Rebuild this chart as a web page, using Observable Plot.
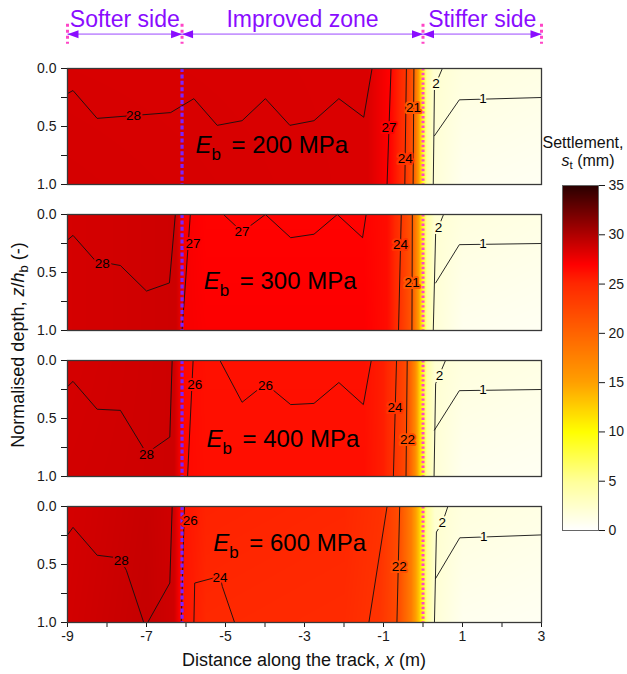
<!DOCTYPE html>
<html>
<head>
<meta charset="utf-8">
<script src="https://cdn.jsdelivr.net/npm/d3@7"></script>
<script src="https://cdn.jsdelivr.net/npm/@observablehq/plot@0.6"></script>
<style>
  html, body { margin: 0; padding: 0; background: #fff; }
  #chart { position: relative; width: 627px; height: 674px; overflow: hidden; font-family: "Liberation Sans", Arial, sans-serif; color: #111; }
  #chart .lbl { position: absolute; white-space: nowrap; line-height: 1; }
  #chart sub { font-size: 0.72em; vertical-align: -0.28em; line-height: 0; }
</style>
</head>
<body>
<div id="chart"></div>
<script>
// ---------------- data ----------------
const xAxisTicks = [-9, -8, -7, -6, -5, -4, -3, -2, -1, 0, 1, 2, 3];
const depthTicks = [0, 0.25, 0.5, 0.75, 1];
const legendTicks = [0, 5, 10, 15, 20, 25, 30, 35];
const zoneBounds = [-9, -6.1, 0, 3];
const zoneNames = ["Softer side", "Improved zone", "Stiffer side"];
const panelNames = ["200", "300", "400", "600"];

const colorStops = [0, 5, 10, 15, 20, 25, 27, 30, 35];
const colorHexes = ["#ffffff", "#ffff99", "#ffff00", "#ffa000", "#ff6400", "#ff2800", "#ff0000", "#b00000", "#2a0000"];

// settlement (mm) along x at surface (z/hb = 0) and at base (z/hb = 1)
const field200X      = [-9, -1.4, -0.85, -0.44, -0.24, -0.1, 0, 0.1, 0.27, 1, 3];
const field200Top    = [28.5, 28.4, 27, 24, 21, 15, 9, 4.5, 2.3, 1.6, 1.3];
const field200Bottom = [28.6, 28.4, 27, 24, 21, 15, 9, 4.5, 2.0, 0.8, 0.6];

const field300X      = [-9, -6.25, -6.05, -5.5, -1.5, -0.9, -0.57, -0.27, -0.1, 0, 0.1, 0.3, 1, 3];
const field300Top    = [28.6, 28.9, 27.3, 26.9, 26.9, 26.4, 24, 21, 15, 9, 4.5, 2.2, 1.6, 1.3];
const field300Bottom = [28.6, 28.9, 27.3, 27.1, 27.1, 26.4, 24, 21, 15, 9, 4.5, 2.0, 0.8, 0.6];

const field400X      = [-9, -6.3, -6.05, -5.5, -1.5, -1.0, -0.7, -0.4, -0.2, 0, 0.1, 0.3, 1, 3];
const field400Top    = [28.6, 28.9, 26.6, 26.2, 26.2, 25.5, 24, 22, 17, 9, 4.5, 2.2, 1.6, 1.3];
const field400Bottom = [28.7, 28.9, 26.6, 26.3, 26.3, 25.5, 24, 22, 17, 9, 4.5, 2.0, 0.8, 0.6];

const field600X      = [-9, -7, -6.3, -6.05, -5.5, -2, -1.1, -0.62, -0.3, -0.1, 0, 0.1, 0.3, 1, 3];
const field600Top    = [28.6, 29.1, 28.8, 26.0, 25.3, 25.1, 24.3, 22, 18, 13, 9, 5, 2.4, 1.6, 1.3];
const field600Bottom = [28.7, 29.2, 28.8, 26.0, 25.0, 24.8, 24.0, 22, 18, 13, 9, 5, 2.0, 0.8, 0.6];

// contour lines: [x (m), z/hb]
const contours200 = [
  [[-9,0.216],[-8.86,0.19],[-8.25,0.43],[-6.39,0.38],[-5.80,0.26],[-5.21,0.49],[-4.58,0.45],[-3.99,0.26],[-3.37,0.49],[-2.76,0.45],[-2.13,0.26],[-1.50,0.42],[-1.29,0]],
  [[-0.81,0],[-0.91,1]],
  [[-0.42,0],[-0.46,1]],
  [[-0.23,0],[-0.25,1]],
  [[0.49,0],[0.29,0.16],[0.26,1]],
  [[0.29,0.58],[0.92,0.27],[3,0.25]]
];
const labels200 = [[-7.33,0.41,"28"],[-0.86,0.51,"27"],[-0.45,0.78,"24"],[-0.24,0.34,"21"],[0.33,0.13,"2"],[1.52,0.262,"1"]];

const contours300 = [
  [[-9,0.22],[-8.86,0.18],[-8.29,0.40],[-7.66,0.44],[-7.0,0.66],[-6.42,0.59],[-6.27,0]],
  [[-5.89,0],[-6.10,1]],
  [[-5.05,0],[-4.58,0.15],[-3.99,0],[-3.35,0.2],[-2.76,0.17],[-2.17,0],[-1.53,0.2],[-1.44,0]],
  [[-0.55,0],[-0.62,1]],
  [[-0.27,0],[-0.28,1]],
  [[0.52,0],[0.39,0.11],[0.32,0.16],[0.26,1]],
  [[0.32,0.59],[0.92,0.26],[3,0.25]]
];
const labels300 = [[-8.12,0.42,"28"],[-5.82,0.25,"27"],[-4.58,0.15,"27"],[-0.57,0.26,"24"],[-0.275,0.59,"21"],[0.39,0.11,"2"],[1.52,0.255,"1"]];

const contours400 = [
  [[-9,0.225],[-8.86,0.18],[-8.25,0.42],[-7.66,0.43],[-7.0,0.8],[-6.41,0.66],[-6.35,0]],
  [[-5.82,0],[-5.96,1]],
  [[-5.14,0],[-4.58,0.36],[-3.99,0.2],[-3.35,0.38],[-2.76,0.37],[-2.13,0.19],[-1.51,0.38],[-1.31,0]],
  [[-0.67,0],[-0.75,1]],
  [[-0.40,0],[-0.43,1]],
  [[0.57,0],[0.42,0.12],[0.32,0.2],[0.28,1]],
  [[0.29,0.6],[0.92,0.26],[3,0.25]]
];
const labels400 = [[-7.0,0.81,"28"],[-5.78,0.21,"26"],[-3.99,0.22,"26"],[-0.71,0.41,"24"],[-0.39,0.68,"22"],[0.42,0.13,"2"],[1.52,0.255,"1"]];

const contours600 = [
  [[-9,0.245],[-8.86,0.18],[-8.25,0.42],[-7.78,0.44],[-7.64,0.47],[-7.51,0.55],[-7.07,1]],
  [[-6.97,1],[-6.41,0.66],[-6.35,0]],
  [[-6.04,0],[-6.12,1]],
  [[-5.8,1],[-5.78,0.66],[-5.34,0.62],[-5.14,0.6],[-5.08,0.69],[-4.77,1]],
  [[-0.91,0],[-1.37,1]],
  [[-0.59,0],[-0.66,1]],
  [[0.63,0],[0.49,0.14],[0.34,0.22],[0.29,1]],
  [[0.32,0.62],[0.93,0.27],[3,0.245]]
];
const labels600 = [[-7.64,0.47,"28"],[-5.89,0.12,"26"],[-5.14,0.61,"24"],[-0.6,0.52,"22"],[0.49,0.14,"2"],[1.54,0.26,"1"]];

// anchor (x, z/hb at baseline) of the "E_b = ... MPa" annotation in each panel
const ebAnchors = [[-5.76,0.729],[-5.55,0.644],[-5.48,0.746],[-5.31,0.385]];

// ---------------- layout / style ----------------
const FONT = "'Liberation Sans', Arial, sans-serif";
const VIOLET = "#8a0cff", VIOLET_LIGHT = "#c696ff", PINK = "#ff46c6", DIVIDER = "#7c22ff";
const PANEL_TOPS = [68, 214, 360, 506], PANEL_H = 116;
const ML = 67, MR = 86, W = 627;
const ANNOT = {arrow: -0.296, tickTop: -0.382, tickBottom: -0.209, text: -0.359};

const chart = document.getElementById("chart");
function place(el, left, top) {
  el.style.position = "absolute";
  el.style.left = left + "px";
  el.style.top = top + "px";
  chart.appendChild(el);
}
function makeField(xs, top, bot) {
  return (x, z) => {
    let i = d3.bisectRight(xs, x) - 1;
    i = Math.max(0, Math.min(xs.length - 2, i));
    const t = Math.max(0, Math.min(1, (x - xs[i]) / (xs[i + 1] - xs[i])));
    const a = top[i] + t * (top[i + 1] - top[i]);
    const b = bot[i] + t * (bot[i + 1] - bot[i]);
    const w = Math.max(0, Math.min(1, z));
    return a + w * (b - a);
  };
}
const colorOpts = {type: "linear", domain: colorStops, range: colorHexes, clamp: true};

const triRight = {draw(ctx) { ctx.moveTo(0, 0); ctx.lineTo(-11, -4); ctx.lineTo(-11, 4); ctx.closePath(); }};
const triLeft  = {draw(ctx) { ctx.moveTo(0, 0); ctx.lineTo(11, -4); ctx.lineTo(11, 4); ctx.closePath(); }};

const panels = [
  {fx: field200X, ft: field200Top, fb: field200Bottom, lines: contours200, labels: labels200},
  {fx: field300X, ft: field300Top, fb: field300Bottom, lines: contours300, labels: labels300},
  {fx: field400X, ft: field400Top, fb: field400Bottom, lines: contours400, labels: labels400},
  {fx: field600X, ft: field600Top, fb: field600Bottom, lines: contours600, labels: labels600}
];

panels.forEach((p, idx) => {
  const first = idx === 0, last = idx === panels.length - 1;
  const mt = first ? 68 : 12, mb = last ? 54 : 12;
  const field = makeField(p.fx, p.ft, p.fb);
  const rows = p.lines.flatMap((pts, id) => pts.map(([x, z]) => ({id, x, z})));
  const labs = p.labels.map(([x, z, t]) => ({x, z, t}));
  const [ex, ez] = ebAnchors[idx];
  const ebText = (str, opts) => Plot.text([str], {x: ex, y: ez, text: d => d, textAnchor: "start", lineAnchor: "bottom", fill: "#000", fontSize: 24, ...opts});
  const marks = [
    Plot.raster({fill: field, x1: -9, x2: 3, y1: 0, y2: 1}),
    Plot.line(rows, {x: "x", y: "z", z: "id", stroke: "#111", strokeWidth: 0.9}),
    Plot.ruleX([zoneBounds[1]], {stroke: DIVIDER, strokeWidth: 3.2, strokeDasharray: "4,2.4"}),
    Plot.ruleX([zoneBounds[2]], {stroke: PINK, strokeWidth: 3, strokeDasharray: "2.4,2.4"}),
    Plot.text(labs, {x: "x", y: "z", text: "t", fill: "#000", stroke: d => field(d.x, d.z), strokeWidth: 4, strokeLinejoin: "round", paintOrder: "stroke", fontSize: 13.5}),
    ebText("E", {fontStyle: "italic"}),
    ebText("b", {fontSize: 17, dx: 16, dy: 6.5}),
    ebText(`= ${panelNames[idx]} MPa`, {dx: 36}),
    Plot.frame({stroke: "#383838", strokeWidth: 1.3})
  ];
  if (first) {
    const zones = zoneNames.map((name, i) => ({name, a: zoneBounds[i], b: zoneBounds[i + 1]}));
    marks.push(
      Plot.link(zones, {x1: "a", x2: "b", y1: ANNOT.arrow, y2: ANNOT.arrow, stroke: VIOLET_LIGHT, strokeWidth: 1.6}),
      Plot.dot(zones, {x: d => d.a, y: ANNOT.arrow, symbol: triLeft, fill: VIOLET, stroke: "none"}),
      Plot.dot(zones, {x: d => d.b, y: ANNOT.arrow, symbol: triRight, fill: VIOLET, stroke: "none"}),
      Plot.ruleX(zoneBounds, {y1: ANNOT.tickTop, y2: ANNOT.tickBottom, stroke: PINK, strokeWidth: 3, strokeDasharray: "3,3"}),
      Plot.text(zones, {x: d => (d.a + d.b) / 2, y: ANNOT.text, text: "name", fill: VIOLET, fontSize: 23, lineAnchor: "bottom"})
    );
  }
  const svg = Plot.plot({
    width: W, height: mt + PANEL_H + mb,
    marginLeft: ML, marginRight: MR, marginTop: mt, marginBottom: mb,
    style: {fontFamily: FONT, fontSize: "14px", color: "#1a1a1a", background: "transparent", overflow: "visible"},
    x: last
      ? {domain: [-9, 3], ticks: xAxisTicks, tickFormat: d => (Math.abs(d) % 2 === 1 ? String(d) : ""), tickSize: 5, tickPadding: 4, label: null}
      : {domain: [-9, 3], axis: null},
    y: {domain: [0, 1], reverse: true, ticks: depthTicks, tickFormat: d => (Math.round(d * 4) % 2 === 0 ? d.toFixed(1) : ""), tickSize: 6, tickPadding: 5, label: null},
    color: colorOpts,
    marks
  });
  place(svg, 0, PANEL_TOPS[idx] - mt);
});

// colour bar
const cb = Plot.plot({
  width: 87, height: 35 + 345 + 15,
  marginLeft: 22, marginRight: 29, marginTop: 35, marginBottom: 15,
  style: {fontFamily: FONT, fontSize: "14px", color: "#1a1a1a", background: "transparent", overflow: "visible"},
  x: {domain: [0, 1], axis: null},
  y: {domain: [0, 35], ticks: legendTicks, tickFormat: d => String(d), axis: "right", tickSize: 6, tickPadding: 4, label: null},
  color: colorOpts,
  marks: [
    Plot.raster({fill: (x, y) => y, x1: 0, x2: 1, y1: 0, y2: 35}),
    Plot.frame({stroke: "#666", strokeWidth: 1})
  ]
});
place(cb, 540, 150);

// text labels
function addLabel(html, css) {
  const d = document.createElement("div");
  d.className = "lbl";
  d.innerHTML = html;
  Object.assign(d.style, css);
  chart.appendChild(d);
}
addLabel("Settlement,", {left: "583px", top: "143px", fontSize: "16px", transform: "translate(-50%,-50%)"});
addLabel("<i>s</i><sub>t</sub> (mm)", {left: "588px", top: "161px", fontSize: "16px", transform: "translate(-50%,-50%)"});
addLabel("Distance along the track, <i>x</i> (m)", {left: "304px", top: "660px", fontSize: "18px", transform: "translate(-50%,-50%)"});
addLabel("Normalised depth, <i>z</i>/<i>h</i><sub>b</sub> (-)", {left: "18px", top: "345px", fontSize: "18px", transform: "translate(-50%,-50%) rotate(-90deg)"});
</script>
</body>
</html>
